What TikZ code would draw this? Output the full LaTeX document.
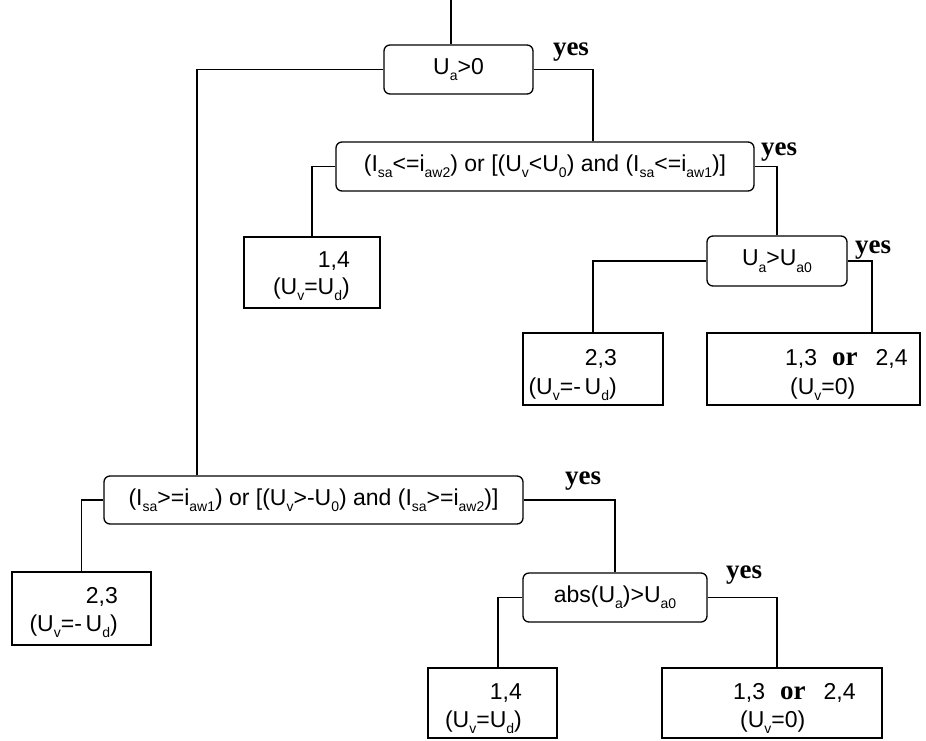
\documentclass[tikz,border=0pt]{standalone}
\usepackage{fontspec}
\setmainfont{Liberation Sans}
\newfontfamily\serifb{Liberation Serif}
\newcommand\sbx[1]{\raisebox{-0.28em}{\fontsize{14}{14}\selectfont #1}}
\begin{document}
\begin{tikzpicture}[x=1pt,y=-1pt,
  dec/.style={draw, line width=1.3pt, rounded corners=6pt, inner sep=0pt, font=\fontsize{23}{27}\selectfont},
  leaf/.style={draw, line width=1.3pt, inner sep=0pt},
  txt/.style={inner sep=0pt, font=\fontsize{23}{27}\selectfont},
  yes/.style={inner sep=0pt, font=\serifb\bfseries\fontsize{27}{30}\selectfont, anchor=base},
  conn/.style={line width=1.3pt}]
\useasboundingbox (0,0) rectangle (926,740);
% decision nodes
\node[dec, minimum width=149pt, minimum height=49pt] (n1) at (458.5,69.5) {U\sbx{a}>0};
\node[dec, minimum width=418pt, minimum height=49pt] (n2) at (545,166.5) {(I\sbx{sa}<=i\sbx{aw2}) or [(U\sbx{v}<U\sbx{0}) and (I\sbx{sa}<=i\sbx{aw1})]};
\node[dec, minimum width=140pt, minimum height=50pt] (n3) at (777,261) {U\sbx{a}>U\sbx{a0}};
\node[dec, minimum width=419pt, minimum height=48pt] (n4) at (313.5,500) {(I\sbx{sa}>=i\sbx{aw1}) or [(U\sbx{v}>-U\sbx{0}) and (I\sbx{sa}>=i\sbx{aw2})]};
\node[dec, minimum width=184pt, minimum height=49pt] (n5) at (615,597.5) {abs(U\sbx{a})>U\sbx{a0}};
% leaves
\node[leaf, minimum width=136pt, minimum height=71pt] (L1) at (312,272.5) {};
\node[leaf, minimum width=140pt, minimum height=72pt] (L2) at (593,369) {};
\node[leaf, minimum width=213pt, minimum height=72pt] (L3) at (813.5,369) {};
\node[leaf, minimum width=139pt, minimum height=73pt] (L4) at (81.5,608.5) {};
\node[leaf, minimum width=129pt, minimum height=70pt] (L5) at (492.5,703) {};
\node[leaf, minimum width=220pt, minimum height=70pt] (L6) at (772,703) {};
% leaf texts
\node[txt, anchor=base east] (L1a) at (350,267) {1,4};
\node[txt, anchor=base east] (L1b) at (350,294) {(U\sbx{v}=U\sbx{d})};
\node[txt, anchor=base east] (L2a) at (617,365) {2,3};
\node[txt, anchor=base east] (L2b) at (617,394) {(U\sbx{v}=-\,U\sbx{d})};
\node[txt, anchor=base west] (L3a) at (785,365) {1,3\hspace{15pt}{\serifb\bfseries\fontsize{27}{30}\selectfont or}\hspace{18pt}2,4};
\node[txt, anchor=base west] (L3b) at (790,394) {(U\sbx{v}=0)};
\node[txt, anchor=base east] (L4a) at (118,603) {2,3};
\node[txt, anchor=base east] (L4b) at (118,631) {(U\sbx{v}=-\,U\sbx{d})};
\node[txt, anchor=base east] (L5a) at (522,699) {1,4};
\node[txt, anchor=base east] (L5b) at (522,727) {(U\sbx{v}=U\sbx{d})};
\node[txt, anchor=base west] (L6a) at (733,699) {1,3\hspace{15pt}{\serifb\bfseries\fontsize{27}{30}\selectfont or}\hspace{18pt}2,4};
\node[txt, anchor=base west] (L6b) at (740,727) {(U\sbx{v}=0)};
% yes labels
\node[yes] (y1) at (571,55) {yes};
\node[yes] (y2) at (779,155) {yes};
\node[yes] (y3) at (873,253) {yes};
\node[yes] (y4) at (583,484) {yes};
\node[yes] (y5) at (744,578) {yes};
% junction coordinates
\coordinate (top) at (451,0);
\coordinate (j1) at (197,0);
\coordinate (j2) at (593,0);
\coordinate (j3) at (872,0);
\coordinate (j5) at (498,0);
\coordinate (j6) at (777,0);
% connectors
\draw[conn] (top) -- (top |- n1.north);
\draw[conn] (n1.west) -| (n4.north -| j1);
\draw[conn] (n1.east) -| (n2.north -| j2);
\draw[conn] (n2.west) -| (L1.north);
\draw[conn] (n2.east) -| (n3.north);
\draw[conn] (n3.west) -| (L2.north);
\draw[conn] (n3.east) -| (L3.north -| j3);
\draw[conn] (n4.west) -| (L4.north);
\draw[conn] (n4.east) -| (n5.north);
\draw[conn] (n5.west) -| (L5.north -| j5);
\draw[conn] (n5.east) -| (L6.north -| j6);
\end{tikzpicture}
\end{document}
